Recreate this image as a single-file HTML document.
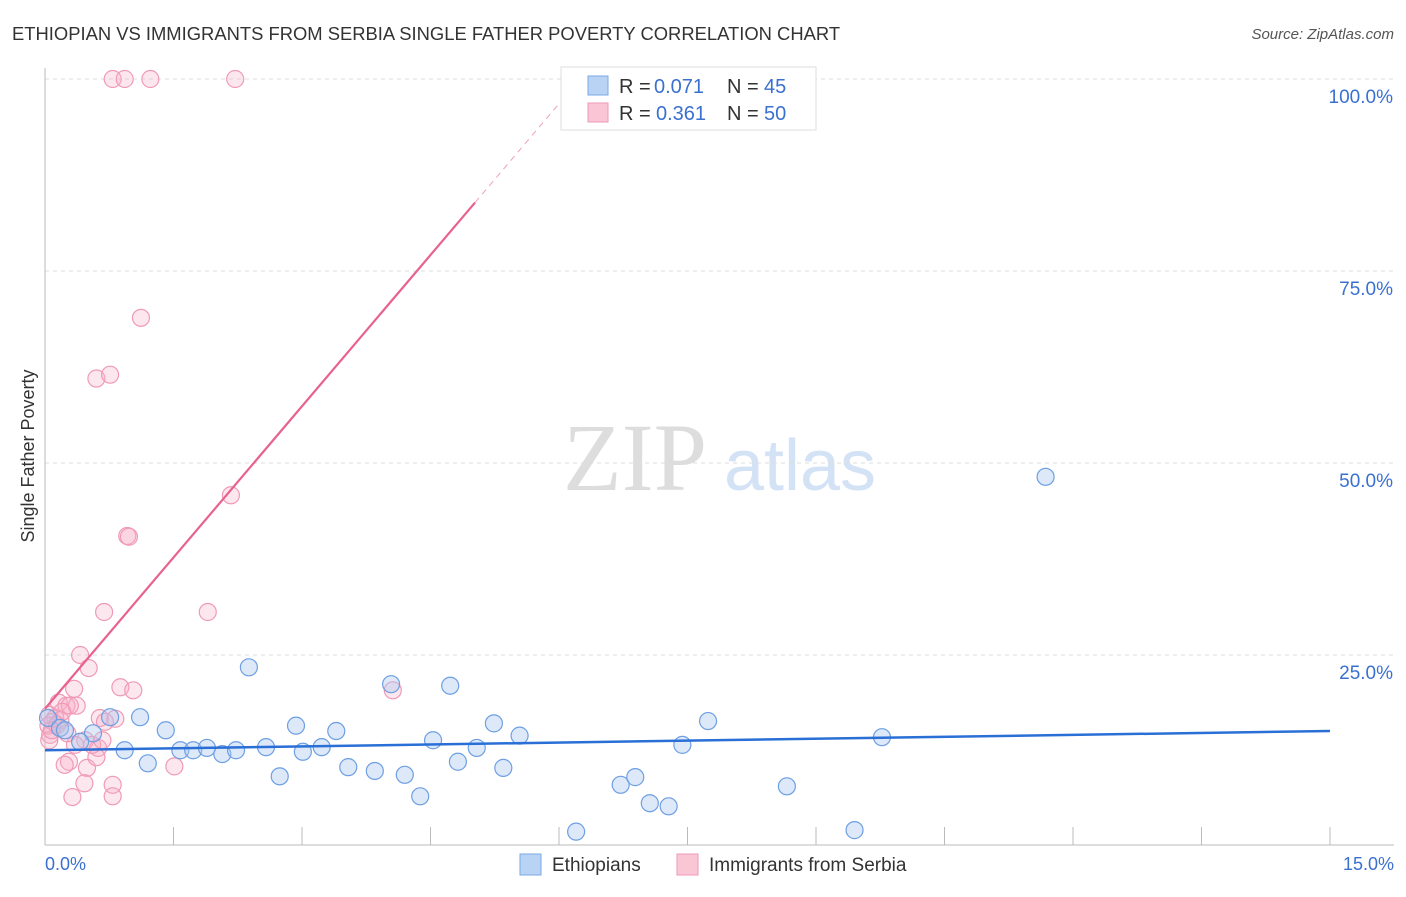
<!DOCTYPE html>
<html><head><meta charset="utf-8"><style>
body{margin:0;background:#fff;font-family:"Liberation Sans",sans-serif}
</style></head><body>
<svg id="c" width="1406" height="892" xmlns="http://www.w3.org/2000/svg">
<text x="12" y="40" font-size="18.4" fill="#333">ETHIOPIAN VS IMMIGRANTS FROM SERBIA SINGLE FATHER POVERTY CORRELATION CHART</text>
<text x="1394" y="39" font-size="15" fill="#555" text-anchor="end" font-style="italic">Source: ZipAtlas.com</text>
<g><text x="635" y="490" font-size="96" fill="#ddd" text-anchor="middle" font-family="Liberation Serif">ZIP</text><text x="800" y="490" font-size="72" fill="#d3e2f5" text-anchor="middle">atlas</text></g>
<text transform="translate(34,456) rotate(-90)" font-size="18" fill="#333" text-anchor="middle">Single Father Poverty</text>
<g id="grid"></g><g id="marks"></g>
<g>
<rect x="561" y="67" width="255" height="63" fill="#fff" stroke="#ddd"/>
<rect x="588" y="76" width="20" height="19" fill="#b9d3f5" stroke="#7aa8e6"/>
<rect x="588" y="103" width="20" height="19" fill="#fac6d6" stroke="#ef99b5"/>
<text x="619" y="93" font-size="20" fill="#333">R =</text>
<text x="654" y="93" font-size="20" fill="#3a70d0">0.071</text>
<text x="727" y="93" font-size="20" fill="#333">N =</text>
<text x="764" y="93" font-size="20" fill="#3a70d0">45</text>
<text x="619" y="120" font-size="20" fill="#333">R =</text>
<text x="656" y="120" font-size="20" fill="#3a70d0">0.361</text>
<text x="727" y="120" font-size="20" fill="#333">N =</text>
<text x="764" y="120" font-size="20" fill="#3a70d0">50</text>
</g>
<g>
<rect x="520" y="854" width="21" height="21" fill="#b9d3f5" stroke="#7aa8e6"/>
<text x="552" y="871" font-size="19" fill="#333">Ethiopians</text>
<rect x="677" y="854" width="21" height="21" fill="#fac6d6" stroke="#ef99b5"/>
<text x="709" y="871" font-size="19" fill="#333">Immigrants from Serbia</text>
</g>
</svg>
<script>
const yTicks=[25,50,75,100];
const yTickLabels=["25.0%","50.0%","75.0%","100.0%"];
const xLabels=["0.0%","15.0%"];
const ethX=[0.035,0.175,0.233,0.56,0.41,0.76,0.93,1.11,1.20,1.41,1.58,1.73,1.89,2.07,2.23,2.38,2.58,2.74,2.93,3.01,3.23,3.40,3.54,3.85,4.04,4.20,4.38,4.53,4.73,4.82,5.04,5.24,5.35,5.54,6.20,6.72,6.89,7.06,7.28,7.44,7.74,8.66,9.45,9.77,11.68];
const ethY=[16.8,15.5,15.2,14.8,13.7,16.9,12.6,16.9,10.9,15.2,12.6,12.6,12.9,12.1,12.6,23.4,13.0,9.2,15.8,12.4,13.0,15.1,10.4,9.9,21.2,9.4,6.6,13.9,21.0,11.1,12.9,16.1,10.3,14.5,2.0,8.1,9.1,5.7,5.3,13.3,16.4,7.9,2.2,14.3,48.2];
const serX=[0.79,0.93,1.23,2.22,1.12,0.60,0.76,2.17,0.96,0.98,0.69,1.90,0.41,0.51,0.34,0.88,1.03,4.06,0.16,0.25,0.37,0.29,0.05,0.12,0.18,0.09,0.04,0.64,0.82,0.06,0.47,0.62,0.28,0.23,0.49,0.60,0.46,0.79,0.79,0.32,1.51,0.05,0.14,0.70,0.55,0.20,0.08,0.35,0.67,0.26];
const serY=[100,100,100,100,68.9,61.0,61.5,45.8,40.5,40.4,30.6,30.6,25.0,23.3,20.6,20.8,20.4,20.4,18.8,18.4,18.4,18.4,17.2,16.8,16.5,16.3,15.8,16.8,16.7,14.6,13.9,12.9,11.1,10.7,10.3,11.7,8.3,8.1,6.6,6.5,10.5,13.9,15.9,16.3,13.3,17.6,15.2,13.3,13.9,14.8];
const ethTrend=[12.6,15.1];
const serTrend=[18.0,13.13];
const X=v=>45+v/15*1285, Y=v=>847-v/100*768;
const NS="http://www.w3.org/2000/svg";
function mk(p,t,a){const e=document.createElementNS(NS,t);for(const k in a)e.setAttribute(k,a[k]);p.appendChild(e);return e;}
const g=document.getElementById('grid'), m=document.getElementById('marks');
yTicks.forEach((t,i)=>{
 const l=mk(g,'line',{x1:45,x2:1394,y1:Y(t),y2:Y(t),stroke:'#ddd','stroke-dasharray':'4,4'});
 
 
 const tx=mk(g,'text',{x:1393,y:Y(t)+24,'font-size':19,fill:'#3a70d0','text-anchor':'end'});
 tx.textContent=yTickLabels[i];
 
 
});
mk(g,'line',{x1:45,x2:45,y1:68,y2:845,stroke:'#bbb'});
mk(g,'line',{x1:45,x2:1394,y1:845,y2:845,stroke:'#bbb'});
for(let i=1;i<=10;i++){const t=mk(g,'line',{x1:X(i*1.5),x2:X(i*1.5),y1:827,y2:845,stroke:'#bbb'});
 
 }
[[0,'start',45],[15,'end',1394]].forEach((d,i)=>{const t=mk(g,'text',{x:d[2],y:870,'font-size':18,fill:'#3a70d0','text-anchor':d[1]});t.textContent=xLabels[i];
 
 });
serX.forEach((x,i)=>{const c=mk(m,'circle',{cx:X(x),cy:Y(serY[i]),r:8.5,fill:'rgba(248,175,198,0.3)',stroke:'#f09ab6','stroke-width':1.2});
 
 });
ethX.forEach((x,i)=>{const c=mk(m,'circle',{cx:X(x),cy:Y(ethY[i]),r:8.5,fill:'rgba(170,200,240,0.4)',stroke:'#6d9fe2','stroke-width':1.2});
 
 });
const bl=mk(m,'line',{x1:X(0),y1:Y(ethTrend[0]),x2:X(15),y2:Y(ethTrend[1]),stroke:'#2a6fd6','stroke-width':2.5});


const xe=5.02,xd=(100-serTrend[0])/serTrend[1];
const pl=mk(m,'line',{x1:X(0),y1:Y(serTrend[0]),x2:X(xe),y2:Y(serTrend[0]+serTrend[1]*xe),stroke:'#e8628e','stroke-width':2.2});


const pd=mk(m,'line',{x1:X(xe),y1:Y(serTrend[0]+serTrend[1]*xe),x2:X(xd),y2:Y(100),stroke:'#f0a0b8','stroke-width':1,'stroke-dasharray':'6,5'});


</script>
</body></html>
